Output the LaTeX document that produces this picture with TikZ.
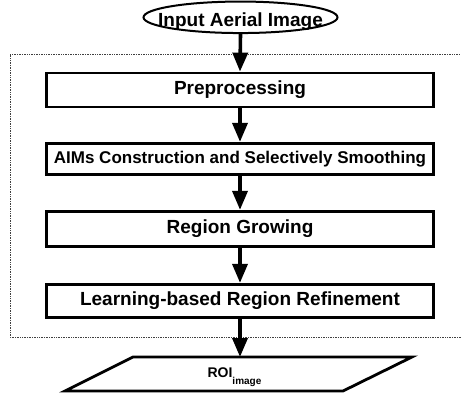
\documentclass[tikz,border=0pt]{standalone}
\usepackage{fontspec}
\setmainfont{Liberation Sans}
\usetikzlibrary{arrows.meta,shapes.geometric}
\begin{document}
\begin{tikzpicture}[x=1pt,y=-1pt,
  stepbox/.style={draw,line width=2.8pt,minimum width=387pt,inner sep=0pt,
    font=\fontsize{19}{22}\selectfont\bfseries},
  flow/.style={line width=3.6pt,-{Triangle[length=19pt,width=15pt]}},
  frame/.style={draw=black!75,line width=0.6pt,dash pattern=on 0.8pt off 0.9pt}
]
\useasboundingbox (0,0) rectangle (461,397);
\clip (0,0) rectangle (461,397);
% dotted frame
\draw[frame] (475,54) -- (10,54) -- (10,337) -- (475,337);
% nodes
\node[ellipse,draw,line width=2pt,minimum width=194pt,minimum height=31.5pt,inner sep=0pt] (input) at (240.5,17.3) {};
\node[anchor=base,inner sep=0pt,font=\fontsize{19}{22}\selectfont\bfseries] (inputtext) at (240.5,26) {Input Aerial Image};
\node[stepbox,minimum height=34pt] (pre) at (240,90) {Preprocessing};
\node[stepbox,minimum height=31.5pt,font=\fontsize{17}{20}\selectfont\bfseries] (aims) at (240,159) {AIMs Construction and Selectively Smoothing};
\node[stepbox,minimum height=35.5pt] (rg) at (240,229) {Region Growing};
\node[stepbox,minimum height=33.5pt] (lrr) at (240,301) {Learning-based Region Refinement};
% output parallelogram
\coordinate (roitop) at (240,357);
\draw[line width=2.8pt,line join=miter] (133,357) -- (412,357) -- (343,391) -- (65,391) -- cycle;
\node[anchor=base,inner sep=0pt,font=\fontsize{14}{16}\selectfont\bfseries] (roi) at (234.5,377.7)
  {ROI\raisebox{-6.5pt}{\fontsize{10}{12}\selectfont image}};
% connectors
\draw[flow] (input.south) -- (pre.north);
\draw[flow] (pre.south) -- (aims.north);
\draw[flow] (aims.south) -- (rg.north);
\draw[flow] (rg.south) -- (lrr.north);
\draw[flow] (lrr.south) -- (roitop);
\end{tikzpicture}
\end{document}
